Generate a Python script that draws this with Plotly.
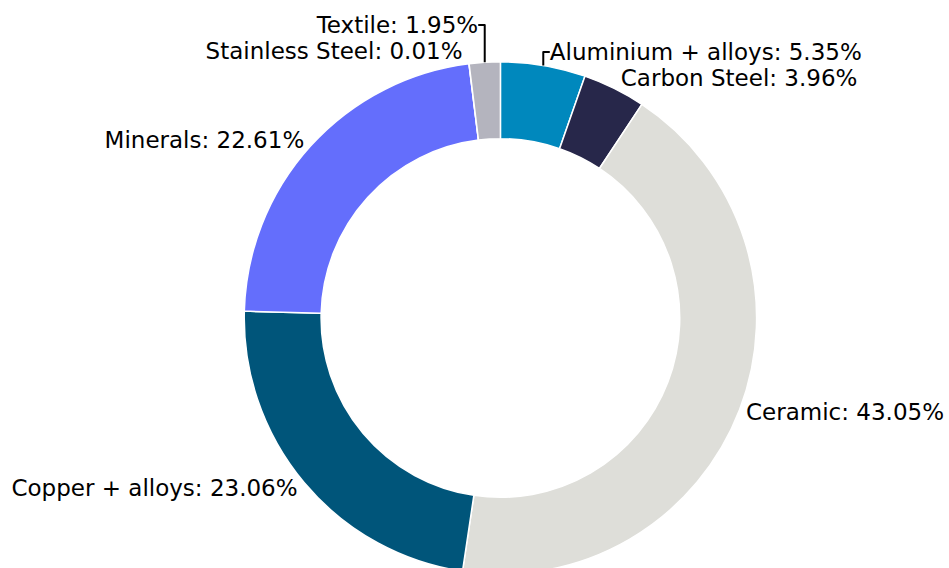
import plotly.graph_objects as go

labels = ["Aluminium + alloys", "Carbon Steel", "Ceramic", "Copper + alloys",
          "Minerals", "Stainless Steel", "Textile"]
values = [5.35, 3.96, 43.05, 23.06, 22.61, 0.01, 1.95]
colors = ["#0088BD", "#27274A", "#DEDED9", "#00557A", "#646EFC", "#8C8C96", "#B4B4BE"]

W, H = 949, 600
cx, cy, r = 502, 318, 257

fig = go.Figure(go.Pie(
    labels=labels, values=values, sort=False, direction="clockwise", rotation=0,
    hole=0.70,
    marker=dict(colors=colors, line=dict(color="white", width=1.5)),
    texttemplate="%{label}: %{value:.2f}%",
    textposition="outside",
    textfont=dict(family="DejaVu Sans", size=23, color="black"),
    showlegend=False,
    domain=dict(x=[(cx - r) / W, (cx + r) / W], y=[(H - cy - r) / H, (H - cy + r) / H]),
))
fig.update_layout(width=W, height=H, margin=dict(l=0, r=0, t=0, b=0),
                  paper_bgcolor="white", plot_bgcolor="white")
fig.write_html("out.html",
               config={"displayModeBar": False},
               post_script="document.body.style.margin='0';"
                           "document.body.style.overflow='hidden';"
                           "document.documentElement.style.overflow='hidden';")
